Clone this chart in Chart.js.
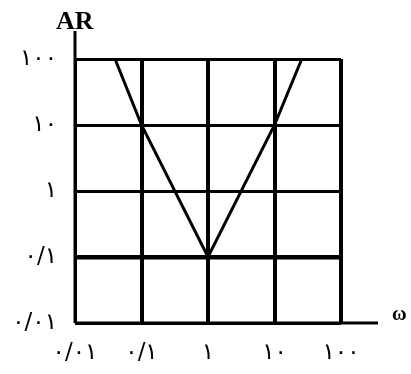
<!DOCTYPE html>
<html>
<head>
<meta charset="utf-8">
<script src="https://cdn.jsdelivr.net/npm/chart.js@4"></script>
<style>
  html, body { margin: 0; padding: 0; background: #fff; }
  #wrap { width: 411px; height: 374px; }
</style>
</head>
<body>
<div id="wrap"><canvas id="c"></canvas></div>
<script>
// tick values and their Persian labels
const xTicks = [0.01, 0.1, 1, 10, 100];
const xLabels = ['۰/۰۱', '۰/۱', '۱', '۱۰', '۱۰۰'];
const yTicks = [0.01, 0.1, 1, 10, 100];
const yLabels = ['۰/۰۱', '۰/۱', '۱', '۱۰', '۱۰۰'];

// V-shaped asymptote line
const lineX = [0.04, 0.1, 1, 10, 25.7];
const lineY = [100, 10, 0.1, 10, 100];

const xTitle = 'ω';
const yTitle = 'AR';

// axis arrows beyond the box + axis names
const axisExtras = {
    id: 'axisExtras',
    afterDraw(chart) {
        const { ctx, scales: { x, y } } = chart;
        const x0 = x.getPixelForValue(x.min), x1 = x.getPixelForValue(x.max);
        const y0 = y.getPixelForValue(y.min), y1 = y.getPixelForValue(y.max);
        ctx.save();
        ctx.strokeStyle = '#000';
        ctx.lineWidth = 3;
        ctx.beginPath();
        ctx.moveTo(x0, y1 - 28); ctx.lineTo(x0, y0);
        ctx.moveTo(x0, y0); ctx.lineTo(x1 + 37, y0);
        ctx.stroke();
        ctx.fillStyle = '#000';
        ctx.font = 'bold 26px "Liberation Serif"';
        ctx.textAlign = 'left';
        ctx.textBaseline = 'middle';
        ctx.fillText(yTitle, x0 - 19, y1 - 37);
        ctx.font = 'bold 20px "Liberation Serif"';
        ctx.fillText(xTitle, x1 + 51, y0 - 8);
        ctx.restore();
    }
};

const tickFont = { family: 'DejaVu Sans', size: 23 };

new Chart(document.getElementById('c'), {
    type: 'line',
    data: {
        datasets: [{
            data: lineX.map((v, i) => ({ x: v, y: lineY[i] })),
            borderColor: '#000',
            borderWidth: 3,
            pointRadius: 0,
            tension: 0,
            clip: false
        }]
    },
    options: {
        responsive: true,
        maintainAspectRatio: false,
        animation: false,
        layout: { padding: { top: 59, right: 70, left: 0, bottom: 0 } },
        plugins: { legend: { display: false }, tooltip: { enabled: false } },
        scales: {
            x: {
                type: 'logarithmic',
                min: 0.01, max: 100,
                afterBuildTicks: s => { s.ticks = xTicks.map(v => ({ value: v })); },
                afterFit: s => { s.height = 51; },
                border: { display: false },
                grid: {
                    color: '#000',
                    drawTicks: false,
                    lineWidth: c => c.index === 0 ? 3 : 4
                },
                ticks: {
                    color: '#000', font: tickFont, padding: 16,
                    autoSkip: false, maxRotation: 0,
                    callback: v => xLabels[xTicks.indexOf(v)]
                }
            },
            y: {
                type: 'logarithmic',
                min: 0.01, max: 100,
                afterBuildTicks: s => { s.ticks = yTicks.map(v => ({ value: v })); },
                afterFit: s => { s.width = 75; },
                border: { display: false },
                grid: {
                    color: '#000',
                    drawTicks: false,
                    lineWidth: c => c.index === 1 ? 4.5 : 3
                },
                ticks: {
                    color: '#000', font: tickFont, padding: 18,
                    autoSkip: false,
                    callback: v => yLabels[yTicks.indexOf(v)]
                }
            }
        }
    },
    plugins: [axisExtras]
});
</script>
</body>
</html>
